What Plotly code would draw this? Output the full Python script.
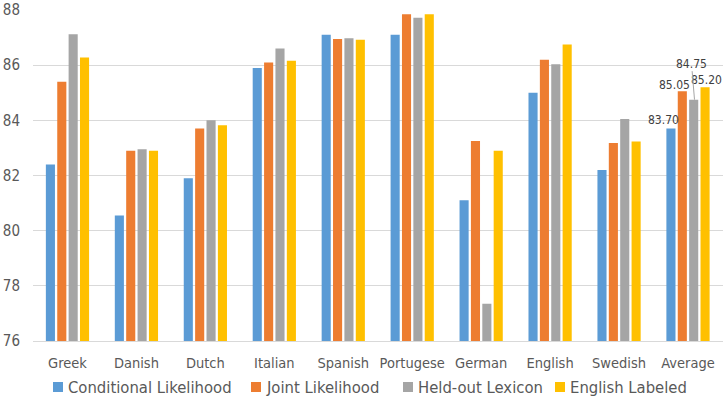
import plotly.graph_objects as go

languages = ["Greek", "Danish", "Dutch", "Italian", "Spanish", "Portugese",
             "German", "English", "Swedish", "Average"]
conditional = [82.40, 80.55, 81.90, 85.90, 87.10, 87.10, 81.10, 85.00, 82.20, 83.70]
joint = [85.40, 82.90, 83.70, 86.10, 86.95, 87.85, 83.25, 86.20, 83.18, 85.05]
heldout = [87.12, 82.95, 84.00, 86.60, 86.98, 87.72, 77.35, 86.03, 84.05, 84.75]
english = [86.28, 82.90, 83.82, 86.16, 86.92, 87.85, 82.90, 86.75, 83.23, 85.20]

series_names = ["Conditional Likelihood", "Joint Likelihood", "Held-out Lexicon", "English Labeled"]
series_values = [conditional, joint, heldout, english]
colors = ["#5B9BD5", "#ED7D31", "#A5A5A5", "#FFC000"]
y_ticks = [76, 78, 80, 82, 84, 86, 88]

FONT = "DejaVu Sans Condensed, Liberation Sans Narrow, sans-serif"

W, H = 723, 402
L, R, T, B = 33, 0, 10, 61
PW, PH = W - L - R, H - T - B


def px_x(p):
    return (p - L) / PW


def px_y(p):
    return (H - B - p) / PH


fig = go.Figure()
for name, vals, col in zip(series_names, series_values, colors):
    fig.add_trace(go.Bar(x=languages, y=vals, name=name, showlegend=False,
                         marker=dict(color=col, line=dict(width=0))))

# data labels on the Average group
avg = languages[-1]
offsets = [-17.5, -5.8, 5.8, 17.5]
label_specs = [  # (series index, xshift, yshift)
    (0, -7, 9),
    (1, -8, 6),
    (3, 1, 7),
]
lab_font = dict(family=FONT, size=12, color="#404040")
for idx, xs, ys in label_specs:
    v = series_values[idx][-1]
    fig.add_annotation(x=avg, y=v, text=f"{v:.2f}", showarrow=False,
                       xshift=xs + offsets[idx], yshift=ys, borderpad=0,
                       font=lab_font)
v = heldout[-1]
fig.add_annotation(x=avg, y=v, text=f"{v:.2f}", showarrow=True, arrowhead=0,
                   arrowwidth=1, arrowcolor="#A6A6A6", standoff=0, borderpad=0,
                   xshift=6.5, ax=-3, ay=-36, font=lab_font)

# legend (Excel-style small squares)
legend_sq_left = [53, 251, 403, 555]
for name, col, sx in zip(series_names, colors, legend_sq_left):
    fig.add_shape(type="rect", xref="paper", yref="paper",
                  x0=px_x(sx), x1=px_x(sx + 10), y0=px_y(392), y1=px_y(382),
                  fillcolor=col, line=dict(width=0))
    fig.add_annotation(xref="paper", yref="paper", x=px_x(sx + 13), y=px_y(387),
                       xanchor="left", yanchor="middle", showarrow=False, text=name,
                       font=dict(family=FONT, size=16.5, color="#595959"))

fig.update_layout(
    width=W, height=H,
    margin=dict(l=L, r=R, t=T, b=B),
    paper_bgcolor="white", plot_bgcolor="white",
    barmode="group", bargap=0.34, bargroupgap=0.2,
    showlegend=False,
    font=dict(family=FONT, size=14, color="#595959"),
    xaxis=dict(showgrid=False, showline=True, linecolor="#D9D9D9", linewidth=1,
               ticks="", ticklabelstandoff=9, tickfont=dict(size=14.5)),
    yaxis=dict(range=[76, 88], tickvals=y_ticks, showgrid=True, gridcolor="#D9D9D9",
               gridwidth=1, zeroline=False, showline=False, ticks="",
               ticklabelstandoff=12, tickfont=dict(size=15)),
)

fig.write_html("out.html")
